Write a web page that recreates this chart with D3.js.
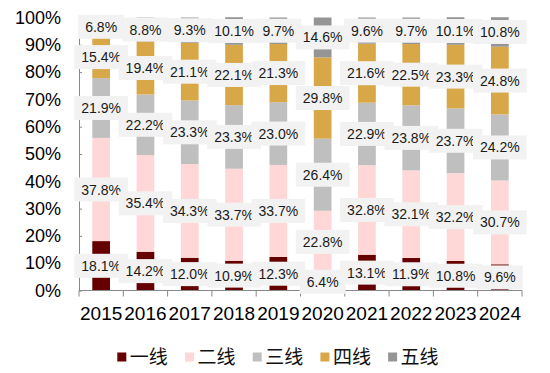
<!DOCTYPE html>
<html>
<head>
<meta charset="utf-8">
<script src="https://cdn.jsdelivr.net/npm/d3@7"></script>
<style>
  body { margin: 0; background: #fff; }
  svg { display: block; font-family: "Liberation Sans", Arial, sans-serif; }
  .lbl { font-size: 14px; fill: #1a1a1a; }
  .legend text { font-family: "Noto Sans CJK SC", sans-serif; font-size: 19px; fill: #111; }
</style>
</head>
<body>
<div id="chart"></div>
<script>
// data
var years = ['2015', '2016', '2017', '2018', '2019', '2020', '2021', '2022', '2023', '2024'];
var series = ['一线', '二线', '三线', '四线', '五线'];
var tier1 = [18.1, 14.2, 12.0, 10.9, 12.3, 6.4, 13.1, 11.9, 10.8, 9.6];
var tier2 = [37.8, 35.4, 34.3, 33.7, 33.7, 22.8, 32.8, 32.1, 32.2, 30.7];
var tier3 = [21.9, 22.2, 23.3, 23.3, 23.0, 26.4, 22.9, 23.8, 23.7, 24.2];
var tier4 = [15.4, 19.4, 21.1, 22.1, 21.3, 29.8, 21.6, 22.5, 23.3, 24.8];
var tier5 = [6.8, 8.8, 9.3, 10.1, 9.7, 14.6, 9.6, 9.7, 10.1, 10.8];
var yTicks = [0, 10, 20, 30, 40, 50, 60, 70, 80, 90, 100];
var colors = ['#660000', '#ffd7d7', '#bfbfbf', '#d8a748', '#959595'];

var W = 550, H = 373;
var mLeft = 79, mRight = 522, mTop = 17.5, mBottom = 290.5;

var rows = years.map(function(y, i) {
  return {year: y, '一线': tier1[i], '二线': tier2[i], '三线': tier3[i], '四线': tier4[i], '五线': tier5[i]};
});
var stacked = d3.stack().keys(series)(rows);

var svg = d3.select('#chart').append('svg')
  .attr('width', W)
  .attr('height', H);

var x = d3.scaleBand().domain(years).range([mLeft, mRight]).paddingInner(0.6).paddingOuter(0.3);
var y = d3.scaleLinear().domain([0, 100]).range([mBottom, mTop]);
var color = d3.scaleOrdinal().domain(series).range(colors);

// bars
svg.append('g')
  .selectAll('g')
  .data(stacked)
  .enter().append('g')
  .attr('fill', function(d) { return color(d.key); })
  .selectAll('rect')
  .data(function(d) { return d; })
  .enter().append('rect')
  .attr('x', function(d) { return x(d.data.year); })
  .attr('width', x.bandwidth())
  .attr('y', function(d) { return y(d[1]); })
  .attr('height', function(d) { return y(d[0]) - y(d[1]); });

// y axis, ticks pointing inward
var yAxis = svg.append('g')
  .attr('transform', 'translate(' + mLeft + ',0)')
  .call(d3.axisLeft(y).tickValues(yTicks).tickSizeInner(-3).tickSizeOuter(0).tickPadding(18)
    .tickFormat(function(d) { return d + '%'; }));
yAxis.select('.domain').attr('stroke', '#888');
yAxis.selectAll('.tick line').attr('stroke', '#888');
yAxis.selectAll('text').style('font-size', '18px').attr('fill', '#000')
  .style('font-family', '"Liberation Sans", Arial, sans-serif');

// x axis: line, ticks between bands, labels centred
var step = x.step();
var bounds = years.map(function(yr) { return x(yr) - (step - x.bandwidth()) / 2; });
bounds.push(mRight);
var xg = svg.append('g');
xg.append('line')
  .attr('x1', mLeft).attr('x2', mRight)
  .attr('y1', mBottom).attr('y2', mBottom)
  .attr('stroke', '#888');
xg.selectAll('line.tk')
  .data(bounds)
  .enter().append('line')
  .attr('class', 'tk')
  .attr('x1', function(d) { return d; }).attr('x2', function(d) { return d; })
  .attr('y1', mBottom).attr('y2', mBottom + 6)
  .attr('stroke', '#888');
xg.selectAll('text')
  .data(years)
  .enter().append('text')
  .attr('x', function(d) { return x(d) + x.bandwidth() / 2; })
  .attr('y', mBottom + 29)
  .attr('text-anchor', 'middle')
  .style('font-size', '19px')
  .attr('fill', '#000')
  .text(function(d) { return d; });

// value labels with grey boxes
var labels = [];
stacked.forEach(function(s) {
  s.forEach(function(d) {
    labels.push({year: d.data.year, v: d[1] - d[0], mid: (d[0] + d[1]) / 2});
  });
});

var lg = svg.append('g');
var items = lg.selectAll('g')
  .data(labels)
  .enter().append('g')
  .attr('transform', function(d) {
    return 'translate(' + (x(d.year) + x.bandwidth() / 2) + ',' + y(d.mid) + ')';
  });
items.append('rect').attr('fill', '#f2f2f2');
items.append('text')
  .attr('class', 'lbl')
  .attr('text-anchor', 'middle')
  .attr('dy', '0.36em')
  .text(function(d) { return d.v.toFixed(1) + '%'; });
items.each(function() {
  var g = d3.select(this);
  var bb = g.select('text').node().getBBox();
  g.select('rect')
    .attr('x', -bb.width / 2 - 7)
    .attr('y', -12)
    .attr('width', bb.width + 14)
    .attr('height', 24);
});

// legend
var legend = svg.append('g').attr('class', 'legend');
var li = legend.selectAll('g')
  .data(series)
  .enter().append('g')
  .attr('transform', function(d, i) { return 'translate(' + (117.3 + i * 67.7) + ',357)'; });
li.append('rect')
  .attr('x', 0).attr('y', -4.5)
  .attr('width', 9).attr('height', 9)
  .attr('fill', function(d) { return color(d); });
li.append('text')
  .attr('x', 12.5)
  .attr('dy', '0.36em')
  .text(function(d) { return d; });
</script>
</body>
</html>
